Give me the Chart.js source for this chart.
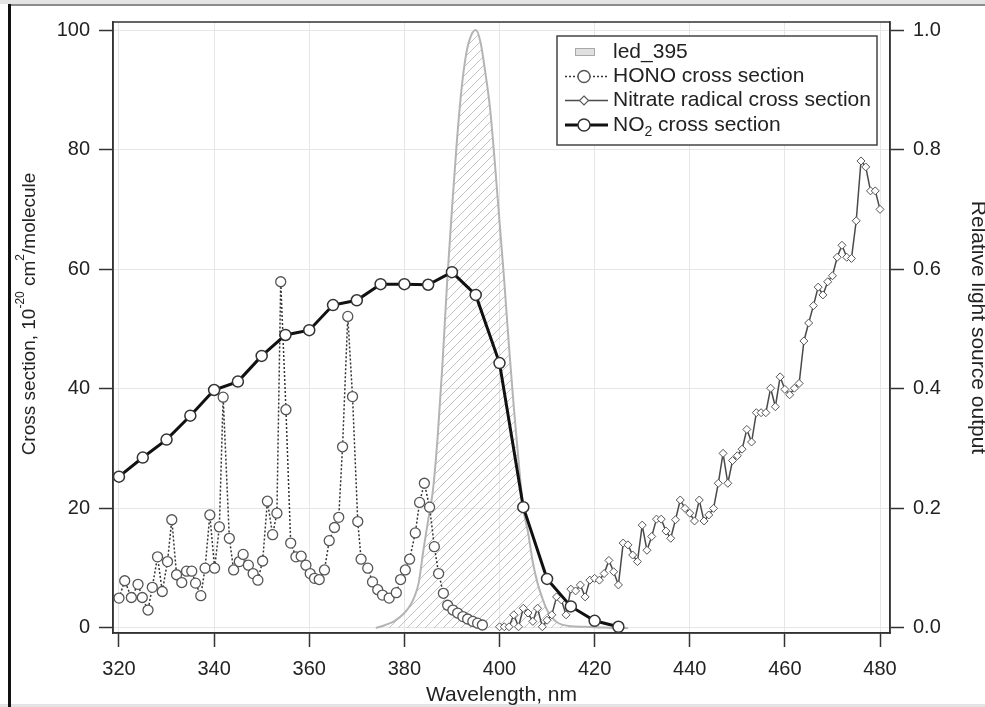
<!DOCTYPE html>
<html><head><meta charset="utf-8">
<script src="https://cdn.jsdelivr.net/npm/chart.js@4.4.1/dist/chart.umd.min.js"></script>
<style>html,body{margin:0;padding:0;background:#fff}canvas{display:block}</style>
</head><body>
<canvas id="c" width="985" height="707"></canvas>
<script>
// ---------- tick labels ----------
const xTicks = [320, 340, 360, 380, 400, 420, 440, 460, 480];
const yTicks = [0, 20, 40, 60, 80, 100];
const y2Ticks = [0, 0.2, 0.4, 0.6, 0.8, 1.0];

// ---------- series names ----------
const seriesNames = ['led_395', 'HONO cross section', 'Nitrate radical cross section', 'NO\u2082 cross section'];
const xTitle = 'Wavelength, nm';
const y2Title = 'Relative light source output';

// ---------- NO2 cross section ----------
const no2_wl = [320, 325, 330, 335, 340, 345, 350, 355, 360, 365, 370, 375, 380, 385, 390, 395, 400, 405, 410, 415, 420, 425];
const no2_cs = [25.3, 28.5, 31.5, 35.5, 39.8, 41.2, 45.5, 49.0, 49.8, 54.0, 54.8, 57.5, 57.5, 57.4, 59.5, 55.7, 44.3, 20.2, 8.2, 3.6, 1.2, 0.2];

// ---------- HONO cross section ----------
const hono_wl = [320.0,321.2,322.6,324.0,324.9,326.1,327.0,328.1,329.1,330.2,331.1,332.1,333.2,334.2,335.3,336.1,337.2,338.1,339.1,340.1,341.1,341.9,343.2,344.1,345.3,346.1,347.2,348.2,349.2,350.2,351.2,352.3,353.2,354.0,355.1,356.1,357.2,358.3,359.3,360.2,361.1,362.1,363.2,364.2,365.3,366.2,367.0,368.1,369.1,370.2,370.9,372.3,373.3,374.4,375.4,376.8,378.3,379.2,380.2,381.1,382.3,383.2,384.2,385.3,386.3,387.2,388.2,389.1,390.2,391.2,392.3,393.3,394.4,395.4,396.4];
const hono_cs = [5.0,7.9,5.1,7.3,5.1,3.0,6.8,11.9,6.1,11.1,18.1,8.9,7.6,9.5,9.5,7.5,5.4,10.0,18.9,10.0,16.9,38.6,15.0,9.7,11.1,12.3,10.5,9.1,8.0,11.2,21.2,15.6,19.2,57.9,36.5,14.2,11.9,12.0,10.5,9.1,8.3,8.1,9.7,14.6,16.8,18.5,30.3,52.1,38.7,17.8,11.5,10.0,7.7,6.4,5.5,5.0,5.9,8.1,9.7,11.5,15.9,21.0,24.2,20.2,13.6,9.1,5.8,3.8,3.0,2.5,1.9,1.5,1.1,0.8,0.5];

// ---------- Nitrate radical cross section ----------
const no3_wl = [400,401,402,403,404,405,406,407,408,409,410,411,412,413,414,415,416,417,418,419,420,421,422,423,424,425,426,427,428,429,430,431,432,433,434,435,436,437,438,439,440,441,442,443,444,445,446,447,448,449,450,451,452,453,454,455,456,457,458,459,460,461,462,463,464,465,466,467,468,469,470,471,472,473,474,475,476,477,478,479,480];
const no3_cs = [0.2,0.2,0.2,2.2,0.2,3.3,2.5,1.1,3.3,0.2,1.3,2.2,5.2,4.7,2.2,6.5,6.2,7.2,5.2,8.0,8.3,8.0,9.1,11.3,9.4,7.2,14.2,13.9,12.2,11.1,17.2,13.0,15.3,18.2,18.2,16.2,15.0,18.1,21.4,20.0,19.2,17.9,21.4,17.9,18.9,20.0,24.2,29.2,24.2,28.0,28.8,29.9,33.2,31.1,36.0,36.0,36.0,40.1,37.0,42.0,39.9,39.0,40.1,40.9,48.0,51.0,53.9,57.0,55.7,57.9,58.9,62.0,64.0,62.0,61.8,68.1,78.1,77.1,73.1,73.1,70.0];

// ---------- LED 395 relative output ----------
const led_wl = [374,376,378,380,381,382,383,384,385,386,387,388,389,390,391,392,393,394,395,396,397,398,399,400,401,402,403,404,405,406,407,408,409,410,411,412,413,415,418,421,424,427];
const led_out = [0.0,0.005,0.012,0.025,0.035,0.05,0.075,0.13,0.18,0.23,0.32,0.44,0.58,0.70,0.81,0.90,0.96,0.99,1.00,0.98,0.93,0.87,0.78,0.68,0.58,0.47,0.37,0.28,0.20,0.16,0.11,0.075,0.05,0.03,0.018,0.01,0.006,0.003,0.002,0.001,0.0,0.0];

const FF = '"Liberation Sans", Arial, Helvetica, sans-serif';
const toXY = (xs, ys) => xs.map((x, i) => ({x: x, y: ys[i]}));

// hatch pattern for the LED area
const pc = document.createElement('canvas');
pc.width = 9; pc.height = 9;
const pg = pc.getContext('2d');
pg.strokeStyle = '#c2c2c2'; pg.lineWidth = 1;
pg.beginPath();
pg.moveTo(0, 9); pg.lineTo(9, 0);
pg.moveTo(-1, 1); pg.lineTo(1, -1);
pg.moveTo(8, 10); pg.lineTo(10, 8);
pg.stroke();
const hatch = document.createElement('canvas').getContext('2d').createPattern(pc, 'repeat');

const framePlugin = {
  id: 'frame',
  beforeDraw(chart) {
    const ctx = chart.ctx;
    ctx.save();
    ctx.fillStyle = '#fff';
    ctx.fillRect(0, 0, chart.width, chart.height);
    ctx.fillStyle = '#e4e4e4';
    ctx.fillRect(0, 0, chart.width, 4);
    ctx.fillRect(0, 704, chart.width, 3);
    ctx.strokeStyle = '#666'; ctx.lineWidth = 1.5;
    ctx.beginPath(); ctx.moveTo(8, 5); ctx.lineTo(chart.width, 5); ctx.stroke();
    ctx.strokeStyle = '#111'; ctx.lineWidth = 3;
    ctx.beginPath(); ctx.moveTo(9.5, 4); ctx.lineTo(9.5, chart.height); ctx.stroke();
    ctx.restore();
  },
  afterDraw(chart) {
    const ctx = chart.ctx, a = chart.chartArea;
    ctx.save();
    ctx.strokeStyle = '#333'; ctx.lineWidth = 1.5;
    ctx.strokeRect(a.left, a.top, a.right - a.left, a.bottom - a.top);

    // axis titles
    ctx.fillStyle = '#222';
    ctx.textBaseline = 'middle';
    ctx.textAlign = 'center';
    ctx.font = '21px ' + FF;
    ctx.fillText(xTitle, (a.left + a.right) / 2, 695);

    ctx.save();
    ctx.translate(978, (a.top + a.bottom) / 2);
    ctx.rotate(Math.PI / 2);
    ctx.fillText(y2Title, 0, 0);
    ctx.restore();

    // left title with superscripts
    const runs = [
      {t: 'Cross section, 10', sup: false},
      {t: '-20', sup: true},
      {t: ' cm', sup: false},
      {t: '2', sup: true},
      {t: '/molecule', sup: false}
    ];
    const fMain = '19px ' + FF, fSup = '12px ' + FF;
    let w = 0;
    runs.forEach(r => { ctx.font = r.sup ? fSup : fMain; r.w = ctx.measureText(r.t).width; w += r.w; });
    ctx.save();
    ctx.translate(30, 314);
    ctx.rotate(-Math.PI / 2);
    ctx.textAlign = 'left';
    let x = -w / 2;
    runs.forEach(r => {
      ctx.font = r.sup ? fSup : fMain;
      ctx.fillText(r.t, x, r.sup ? -9 : 0);
      x += r.w;
    });
    ctx.restore();

    // legend box
    const L = 557, T = 36, R = 877, B = 145;
    ctx.fillStyle = '#fff';
    ctx.fillRect(L, T, R - L, B - T);
    ctx.strokeStyle = '#444'; ctx.lineWidth = 1.5;
    ctx.strokeRect(L, T, R - L, B - T);
    const rows = [52, 76.5, 100.5, 125];
    const s0 = 565, s1 = 608, mx = 584;
    // led symbol
    ctx.fillStyle = '#e0e0e0';
    ctx.fillRect(575, rows[0] - 4, 20, 8);
    ctx.strokeStyle = '#a8a8a8'; ctx.lineWidth = 1;
    ctx.strokeRect(575.5, rows[0] - 3.5, 19, 7);
    // HONO symbol
    ctx.strokeStyle = '#333'; ctx.lineWidth = 1.5; ctx.setLineDash([2, 2]);
    ctx.beginPath(); ctx.moveTo(s0, rows[1]); ctx.lineTo(s1, rows[1]); ctx.stroke();
    ctx.setLineDash([]);
    ctx.fillStyle = '#fff'; ctx.strokeStyle = '#555'; ctx.lineWidth = 1.4;
    ctx.beginPath(); ctx.arc(mx, rows[1], 6, 0, Math.PI * 2); ctx.fill(); ctx.stroke();
    // nitrate symbol
    ctx.strokeStyle = '#4a4a4a'; ctx.lineWidth = 1.5;
    ctx.beginPath(); ctx.moveTo(s0, rows[2]); ctx.lineTo(s1, rows[2]); ctx.stroke();
    ctx.fillStyle = '#fff'; ctx.strokeStyle = '#555'; ctx.lineWidth = 1.1;
    ctx.beginPath();
    ctx.moveTo(mx, rows[2] - 4.5); ctx.lineTo(mx + 4.5, rows[2]); ctx.lineTo(mx, rows[2] + 4.5); ctx.lineTo(mx - 4.5, rows[2]); ctx.closePath();
    ctx.fill(); ctx.stroke();
    // NO2 symbol
    ctx.strokeStyle = '#111'; ctx.lineWidth = 3;
    ctx.beginPath(); ctx.moveTo(s0, rows[3]); ctx.lineTo(s1, rows[3]); ctx.stroke();
    ctx.fillStyle = '#fff'; ctx.strokeStyle = '#333'; ctx.lineWidth = 1.5;
    ctx.beginPath(); ctx.arc(mx, rows[3], 6, 0, Math.PI * 2); ctx.fill(); ctx.stroke();

    // legend texts
    ctx.fillStyle = '#222'; ctx.textAlign = 'left'; ctx.textBaseline = 'middle';
    const fL = '21px ' + FF, fSub = '14px ' + FF;
    for (let i = 0; i < 3; i++) { ctx.font = fL; ctx.fillText(seriesNames[i], 613, rows[i]); }
    const parts = seriesNames[3].split('\u2082');
    ctx.font = fL;
    let tx = 613;
    ctx.fillText(parts[0], tx, rows[3]); tx += ctx.measureText(parts[0]).width;
    ctx.font = fSub;
    ctx.fillText('2', tx, rows[3] + 7); tx += ctx.measureText('2').width;
    ctx.font = fL;
    ctx.fillText(parts[1], tx, rows[3]);
    ctx.restore();
  }
};

const tickFont = {size: 20, family: FF};
const gridCfg = {color: '#e6e6e6', lineWidth: 1, tickColor: '#333', tickLength: 14, tickWidth: 1.5};
const borderCfg = {color: '#333', width: 1.5};

new Chart(document.getElementById('c'), {
  type: 'line',
  data: {
    datasets: [
      {label: seriesNames[3], data: toXY(no2_wl, no2_cs), yAxisID: 'y', order: 1,
       borderColor: '#111', borderWidth: 3, pointRadius: 5.5, pointBackgroundColor: '#fff',
       pointBorderColor: '#333', pointBorderWidth: 1.5, tension: 0},
      {label: seriesNames[2], data: toXY(no3_wl, no3_cs), yAxisID: 'y', order: 2,
       borderColor: '#4a4a4a', borderWidth: 1.5, pointStyle: 'rectRot', pointRadius: 4,
       pointBackgroundColor: '#fff', pointBorderColor: '#555', pointBorderWidth: 1, tension: 0},
      {label: seriesNames[1], data: toXY(hono_wl, hono_cs), yAxisID: 'y', order: 3,
       borderColor: '#333', borderWidth: 1.5, borderDash: [2, 2], pointRadius: 5,
       pointBackgroundColor: '#fff', pointBorderColor: '#555', pointBorderWidth: 1.3, tension: 0},
      {label: seriesNames[0], data: toXY(led_wl, led_out), yAxisID: 'y2', order: 4,
       borderColor: '#b4b4b4', borderWidth: 2, pointRadius: 0, fill: 'origin',
       backgroundColor: hatch, tension: 0.3, cubicInterpolationMode: 'monotone'}
    ]
  },
  options: {
    responsive: false,
    devicePixelRatio: 1,
    animation: false,
    events: [],
    layout: {padding: {top: 22, left: 0, right: 0, bottom: 0}},
    plugins: {legend: {display: false}, tooltip: {enabled: false}},
    scales: {
      x: {
        type: 'linear', position: 'bottom', min: 318.74, max: 482.1,
        afterBuildTicks: s => { s.ticks = xTicks.map(v => ({value: v})); },
        afterFit: s => { s.height = 74; },
        ticks: {font: tickFont, color: '#222', padding: 10, maxRotation: 0, autoSkip: false},
        grid: gridCfg, border: borderCfg
      },
      y: {
        type: 'linear', position: 'left', min: -0.84, max: 101.34,
        afterBuildTicks: s => { s.ticks = yTicks.map(v => ({value: v})); },
        afterFit: s => { s.width = 113; },
        ticks: {font: tickFont, color: '#222', padding: 9},
        grid: gridCfg, border: borderCfg
      },
      y2: {
        type: 'linear', position: 'right', min: -0.0084, max: 1.0134,
        afterBuildTicks: s => { s.ticks = y2Ticks.map(v => ({value: v})); },
        afterFit: s => { s.width = 95; },
        ticks: {font: tickFont, color: '#222', padding: 9, callback: v => Number(v).toFixed(1)},
        grid: Object.assign({}, gridCfg, {drawOnChartArea: false}), border: borderCfg
      }
    }
  },
  plugins: [framePlugin]
});
</script>
</body></html>
